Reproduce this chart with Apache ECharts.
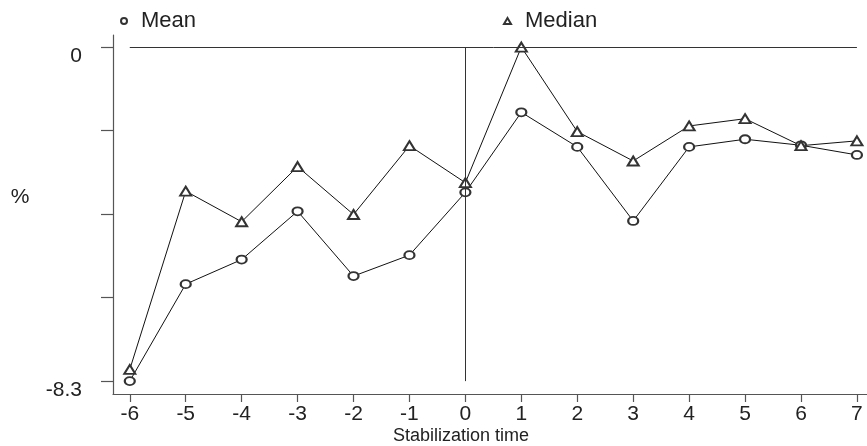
<!DOCTYPE html>
<html>
<head>
<meta charset="utf-8">
<script src="https://cdn.jsdelivr.net/npm/echarts@6/dist/echarts.min.js"></script>
<style>
  html, body { margin: 0; padding: 0; background: #fff; }
  #chart { width: 867px; height: 446px; }
</style>
</head>
<body>
<div id="chart"></div>
<script>
// Stabilization time (periods relative to event)
const periods = [-6, -5, -4, -3, -2, -1, 0, 1, 2, 3, 4, 5, 6, 7];
// Mean change, %
const meanValues = [-8.30, -5.89, -5.28, -4.08, -5.69, -5.17, -3.61, -1.62, -2.48, -4.32, -2.48, -2.29, -2.44, -2.68];
// Median change, %
const medianValues = [-8.01, -3.58, -4.34, -2.97, -4.16, -2.45, -3.37, 0.00, -2.10, -2.83, -1.96, -1.78, -2.45, -2.33];
// Axis ticks
const yTicks = [0, -2.075, -4.15, -6.225, -8.3];
const yTickLabels = [0, -8.3];

const ink = '#222';
const fontFamily = '"Liberation Sans", Arial, Helvetica, sans-serif';

const chart = echarts.init(document.getElementById('chart'));

const pairs = vals => periods.map((p, i) => [p, vals[i]]);

const legendText = { color: ink, fontSize: 22, fontFamily, padding: [0, 0, 0, 9] };

chart.setOption({
  animation: false,
  backgroundColor: '#fff',
  grid: { left: 113, right: 0, top: 35, bottom: 52, containLabel: false },
  legend: [
    {
      data: ['Mean'], left: 115, top: 5, icon: 'emptyCircle',
      itemWidth: 6, itemHeight: 6, textStyle: legendText
    },
    {
      data: ['Median'], left: 498, top: 5, icon: 'emptyTriangle',
      itemWidth: 7, itemHeight: 6, textStyle: legendText
    }
  ],
  xAxis: {
    type: 'value', min: -6.3, max: 7.18,
    splitLine: { show: false },
    axisLine: { onZero: false, lineStyle: { color: '#555', width: 1.2 } },
    axisTick: { show: true, length: 8, customValues: periods, lineStyle: { color: '#555', width: 1.2 } },
    axisLabel: { customValues: periods, color: ink, fontSize: 21, fontFamily, margin: 10 }
  },
  yAxis: {
    type: 'value', min: -8.62, max: 0.30,
    splitLine: { show: false },
    axisLine: { show: true, onZero: false, lineStyle: { color: '#555', width: 1.2 } },
    axisTick: { show: true, length: 12, customValues: yTicks, lineStyle: { color: '#555', width: 1.2 } },
    axisLabel: {
      customValues: yTickLabels, color: ink, fontSize: 21, fontFamily,
      margin: 31, verticalAlign: 'top', padding: [-1, 0, 0, 0]
    }
  },
  graphic: [
    { type: 'text', x: 20, y: 197, style: { text: '%', fill: ink, fontSize: 21, fontFamily, align: 'center', verticalAlign: 'middle' } },
    { type: 'text', x: 461, y: 436, style: { text: 'Stabilization time', fill: ink, fontSize: 18, fontFamily, align: 'center', verticalAlign: 'middle' } }
  ],
  series: [
    {
      name: 'Mean', type: 'line', data: pairs(meanValues),
      symbol: 'emptyCircle', symbolSize: [10, 8],
      lineStyle: { color: '#111', width: 1 },
      itemStyle: { color: '#333', borderWidth: 0.7 },
      z: 3,
      markLine: {
        silent: true, symbol: 'none', label: { show: false },
        lineStyle: { color: '#333', width: 1, type: 'solid' },
        data: [
          [{ coord: [-6, 0] }, { coord: [7, 0] }],
          [{ coord: [0, 0] }, { coord: [0, -8.3] }]
        ]
      }
    },
    {
      name: 'Median', type: 'line', data: pairs(medianValues),
      symbol: 'emptyTriangle', symbolSize: [11, 9],
      lineStyle: { color: '#111', width: 1 },
      itemStyle: { color: '#333', borderWidth: 0.7 },
      z: 3
    }
  ]
});
</script>
</body>
</html>
